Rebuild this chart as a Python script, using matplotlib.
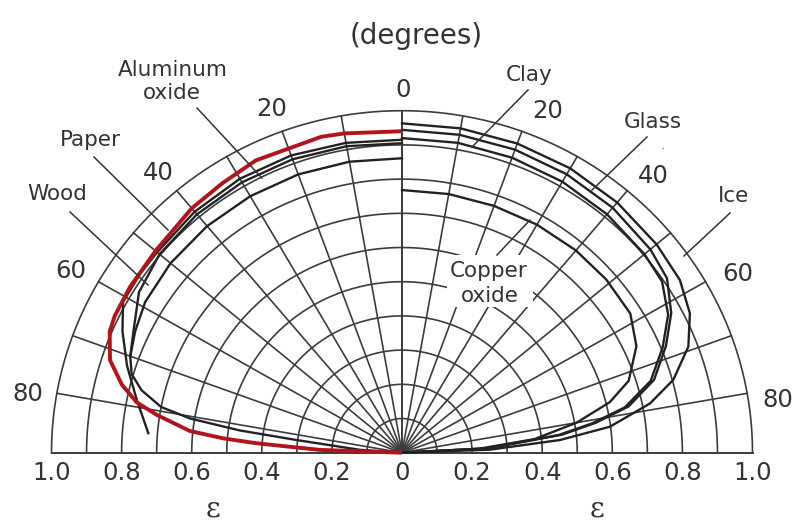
import numpy as np
import matplotlib
matplotlib.use("Agg")
import matplotlib.pyplot as plt
from matplotlib.lines import Line2D
from matplotlib.patches import Rectangle

# directional emissivity, angle from the normal (deg) -> epsilon
# left half
red_th  = [0, 10, 14, 26, 33, 40, 50, 58, 64, 67, 72, 76, 79, 81, 84, 85.3, 86.2, 88, 90]
red_eps = [0.94, 0.948, 0.952, 0.951, 0.94, 0.933, 0.918, 0.915, 0.912, 0.906, 0.876,
           0.824, 0.771, 0.709, 0.609, 0.512, 0.416, 0.234, 0.0]

wood_th  = [0, 10, 20, 30, 40, 50, 55, 61, 66, 72, 78.5, 85.5]
wood_eps = [0.915, 0.92, 0.925, 0.925, 0.92, 0.912, 0.912, 0.91, 0.873, 0.825, 0.772, 0.726]

paper_th  = [0, 10, 20, 30, 40, 50, 58, 65, 70, 73.4, 76.2, 79, 80.6, 82, 83, 86, 90]
paper_eps = [0.905, 0.91, 0.913, 0.913, 0.91, 0.903, 0.885, 0.845, 0.825, 0.805, 0.765,
             0.70, 0.613, 0.467, 0.30, 0.12, 0.0]

alox_th  = [0, 10, 20, 30, 40, 50, 59, 65, 70]
alox_eps = [0.861, 0.864, 0.866, 0.866, 0.865, 0.862, 0.855, 0.84, 0.825]

# right half
ice_th  = [0, 10, 20, 30, 40, 50, 57.5, 63.6, 69.2, 74.6, 78.5, 82.7, 85.3, 88, 90]
ice_eps = [0.963, 0.963, 0.962, 0.96, 0.955, 0.948, 0.94, 0.917, 0.874, 0.803, 0.722,
           0.598, 0.452, 0.25, 0.0]

glass_th  = [0, 10, 20, 30, 40, 50, 56, 62, 67.5, 73.5, 78.2, 81, 83.4, 87, 90]
glass_eps = [0.944, 0.944, 0.943, 0.94, 0.935, 0.925, 0.912, 0.87, 0.815, 0.75, 0.66,
             0.56, 0.46, 0.25, 0.0]

clay_th  = [0, 10, 20, 30, 40, 50, 56, 62, 67.5, 73.5, 78.2, 81, 83.4, 87, 90]
clay_eps = [0.92, 0.92, 0.918, 0.915, 0.91, 0.903, 0.895, 0.86, 0.805, 0.74, 0.65,
            0.55, 0.45, 0.24, 0.0]

cuox_th  = [0, 10, 20, 30, 40, 49, 58, 65, 72, 76, 80, 84, 87, 90]
cuox_eps = [0.768, 0.768, 0.768, 0.77, 0.772, 0.772, 0.768, 0.738, 0.68, 0.611, 0.506,
            0.38, 0.22, 0.0]

rings = [0.1, 0.2, 0.3, 0.4, 0.5, 0.6, 0.7, 0.8, 0.9, 1.0]
spokes = [0, 10, 20, 30, 40, 50, 60, 70, 80]
eps_ticks = ['1.0', '0.8', '0.6', '0.4', '0.2', '0', '0.2', '0.4', '0.6', '0.8', '1.0']
eps_pos = [-1.0, -0.8, -0.6, -0.4, -0.2, 0, 0.2, 0.4, 0.6, 0.8, 1.0]
angle_text = ['0', '20', '40', '60', '80', '20', '40', '60', '80']


def half(th, eps, side):
    t = np.radians(np.array(th))
    e = np.array(eps)
    return side * e * np.sin(t), e * np.cos(t)


W, H = 799, 526
fig = plt.figure(figsize=(W / 100, H / 100), dpi=100)
ax = fig.add_axes([51.5 / W, (H - 452.7) / H, 701 / W, 342 / H])
ax.set_xlim(-1, 1)
ax.set_ylim(0, 1)
ax.axis('off')

gc = '#3c3c3c'
a = np.radians(np.linspace(-90, 90, 361))
for r in rings:
    ax.plot(r * np.sin(a), r * np.cos(a), color=gc, lw=1.2, clip_on=False)
for s in spokes:
    for side in (-1, 1):
        t = np.radians(s)
        ax.plot([0, side * np.sin(t)], [0, np.cos(t)], color=gc, lw=1.2, clip_on=False)
ax.plot([-1, 1], [0, 0], color=gc, lw=1.4, clip_on=False)

cc = '#222222'
for th, ep, side in [(wood_th, wood_eps, -1), (paper_th, paper_eps, -1),
                     (alox_th, alox_eps, -1), (ice_th, ice_eps, 1),
                     (glass_th, glass_eps, 1), (clay_th, clay_eps, 1),
                     (cuox_th, cuox_eps, 1)]:
    x, y = half(th, ep, side)
    ax.plot(x, y, color=cc, lw=1.7, clip_on=False)

x, y = half(red_th, red_eps, -1)
ax.plot(x, y, color='#b3141a', lw=2.8, clip_on=False, solid_capstyle='butt')


def P(px, py):
    return px / W, 1 - py / H


fs_tick = 17.5
for lab, e in zip(eps_ticks, eps_pos):
    fig.text(*P(402 + e * 350.5, 473), lab, fontsize=fs_tick, ha='center', va='center',
             color='#333333')

angle_xy = [(403, 90), (271.7, 109), (158, 172.5), (71, 271), (27.5, 394),
            (548, 111), (653, 176), (737.5, 274), (778, 400)]
for lab, (px, py) in zip(angle_text, angle_xy):
    fig.text(*P(px, py), lab, fontsize=fs_tick, ha='center', va='center', color='#333333')

fig.text(*P(416.5, 36), '(degrees)', fontsize=20, ha='center', va='center', color='#333333')
for px in (213, 597):
    fig.text(*P(px, 509), 'ε', fontsize=20.5, family='DejaVu Serif', ha='center',
             va='center', color='#333333')

# white patch behind the "Copper oxide" label hides the grid there
fig.add_artist(Rectangle(P(447, 307), 86 / W, 52 / H, transform=fig.transFigure,
                         facecolor='white', edgecolor='none', zorder=1))

fs_lab = 15.5
names = [('Wood', 57.5, 200), ('Paper', 90, 146), ('Aluminum', 172.5, 76), ('oxide', 172, 99.3),
         ('Clay', 529, 81), ('Glass', 652.5, 127.7), ('Ice', 733.5, 201.7),
         ('Copper', 489, 276.7), ('oxide', 490, 301.7)]
for n, px, py in names:
    fig.text(*P(px, py), n, fontsize=fs_lab, ha='center', va='baseline', color='#333333')

leaders = [((70, 212), (148, 285)), ((94, 157), (168, 230)), ((197, 108), (262, 178)),
           ((528, 90), (472, 147)), ((647, 137), (592, 190)), ((730, 213), (684, 256)),
           ((497, 255), (530, 220))]
for (x0, y0), (x1, y1) in leaders:
    fig.add_artist(Line2D([x0 / W, x1 / W], [1 - y0 / H, 1 - y1 / H], color='#333333',
                          lw=1.1, transform=fig.transFigure, zorder=2))

# stray dot printed next to the "Glass" label
fig.text(*P(663, 150), '·', fontsize=9, ha='center', va='center', color='#555555')

fig.savefig('out.png', dpi=100)
